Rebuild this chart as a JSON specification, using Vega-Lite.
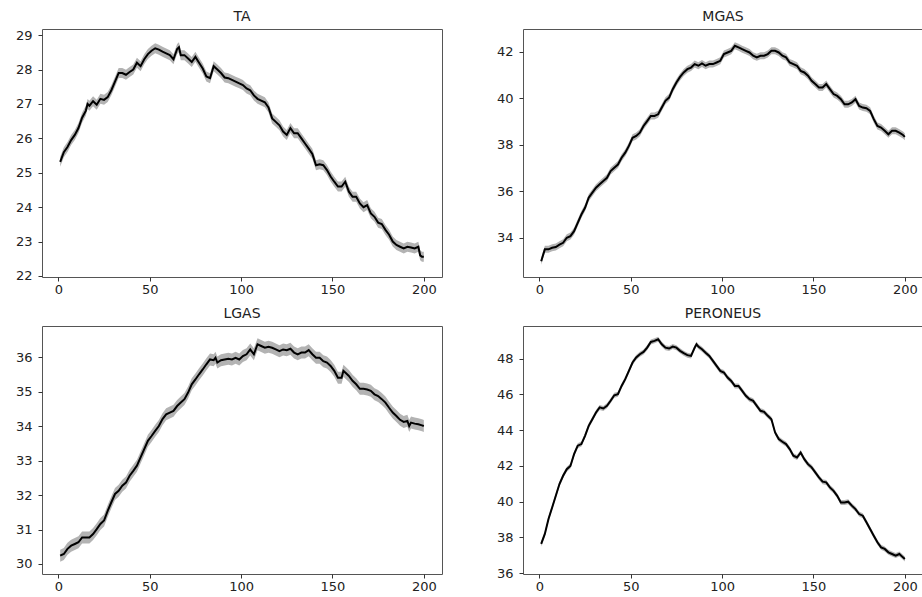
{
  "$schema": "https://vega.github.io/schema/vega-lite/v6.json",
  "padding": {"left": 10, "top": 9, "right": 0, "bottom": 0},
  "background": "white",
  "config": {
    "font": "DejaVu Sans",
    "view": {"stroke": "#555555", "strokeWidth": 1},
    "axis": {"domain": false, "grid": false, "tickColor": "#333333", "tickSize": 4, "labelFont": "DejaVu Sans", "labelFontSize": 13, "labelColor": "#222222", "title": null},
    "axisY": {"minExtent": 31, "maxExtent": 31, "labelPadding": 6},
    "axisX": {"minExtent": 22, "maxExtent": 22, "labelPadding": 2},
    "title": {"font": "DejaVu Sans", "fontSize": 14, "fontWeight": "normal", "color": "#222222", "baseline": "alphabetic", "offset": 5, "anchor": "middle", "frame": "group"},
    "concat": {"spacing": 48}
  },
  "datasets": {
    "ta": [
      {"x":1,"y":25.32},{"x":3,"y":25.6},{"x":5,"y":25.75},{"x":7,"y":25.95},{"x":9,"y":26.1},{"x":11,"y":26.3},{"x":13,"y":26.6},{"x":15,"y":26.8},{"x":16,"y":27.0},{"x":17,"y":26.95},{"x":19,"y":27.08},{"x":21,"y":26.98},{"x":23,"y":27.15},{"x":25,"y":27.12},{"x":27,"y":27.2},{"x":29,"y":27.4},{"x":31,"y":27.65},{"x":33,"y":27.9},{"x":35,"y":27.9},{"x":37,"y":27.85},{"x":39,"y":27.93},{"x":41,"y":28.0},{"x":43,"y":28.2},{"x":45,"y":28.1},{"x":47,"y":28.3},{"x":49,"y":28.45},{"x":51,"y":28.55},{"x":53,"y":28.62},{"x":55,"y":28.58},{"x":57,"y":28.52},{"x":59,"y":28.47},{"x":61,"y":28.42},{"x":63,"y":28.3},{"x":65,"y":28.6},{"x":66,"y":28.65},{"x":67,"y":28.42},{"x":69,"y":28.42},{"x":71,"y":28.32},{"x":73,"y":28.22},{"x":75,"y":28.37},{"x":77,"y":28.2},{"x":79,"y":28.03},{"x":81,"y":27.8},{"x":83,"y":27.75},{"x":85,"y":28.1},{"x":87,"y":28.0},{"x":89,"y":27.9},{"x":91,"y":27.77},{"x":93,"y":27.75},{"x":95,"y":27.7},{"x":97,"y":27.65},{"x":99,"y":27.6},{"x":101,"y":27.55},{"x":103,"y":27.45},{"x":105,"y":27.4},{"x":107,"y":27.25},{"x":109,"y":27.15},{"x":111,"y":27.1},{"x":113,"y":27.05},{"x":115,"y":26.9},{"x":117,"y":26.58},{"x":119,"y":26.48},{"x":121,"y":26.38},{"x":123,"y":26.2},{"x":125,"y":26.1},{"x":127,"y":26.3},{"x":129,"y":26.15},{"x":131,"y":26.15},{"x":133,"y":26.0},{"x":135,"y":25.85},{"x":137,"y":25.7},{"x":139,"y":25.55},{"x":141,"y":25.22},{"x":143,"y":25.25},{"x":145,"y":25.22},{"x":147,"y":25.08},{"x":149,"y":24.89},{"x":151,"y":24.74},{"x":153,"y":24.6},{"x":155,"y":24.6},{"x":157,"y":24.74},{"x":159,"y":24.45},{"x":161,"y":24.3},{"x":163,"y":24.3},{"x":165,"y":24.11},{"x":167,"y":24.0},{"x":169,"y":24.06},{"x":171,"y":23.82},{"x":173,"y":23.72},{"x":175,"y":23.55},{"x":177,"y":23.51},{"x":179,"y":23.34},{"x":181,"y":23.2},{"x":183,"y":23.0},{"x":185,"y":22.9},{"x":187,"y":22.85},{"x":189,"y":22.8},{"x":191,"y":22.85},{"x":193,"y":22.83},{"x":195,"y":22.8},{"x":197,"y":22.85},{"x":198,"y":22.6},{"x":199,"y":22.56},{"x":200,"y":22.56}
    ],
    "mgas": [
      {"x":1,"y":32.99},{"x":3,"y":33.5},{"x":5,"y":33.5},{"x":7,"y":33.57},{"x":9,"y":33.6},{"x":11,"y":33.7},{"x":13,"y":33.78},{"x":15,"y":34.0},{"x":17,"y":34.07},{"x":19,"y":34.28},{"x":21,"y":34.64},{"x":23,"y":35.0},{"x":25,"y":35.29},{"x":27,"y":35.72},{"x":29,"y":35.94},{"x":31,"y":36.15},{"x":33,"y":36.3},{"x":35,"y":36.44},{"x":37,"y":36.58},{"x":39,"y":36.87},{"x":41,"y":37.01},{"x":43,"y":37.15},{"x":45,"y":37.44},{"x":47,"y":37.66},{"x":49,"y":37.95},{"x":51,"y":38.3},{"x":53,"y":38.38},{"x":55,"y":38.52},{"x":57,"y":38.81},{"x":59,"y":39.02},{"x":61,"y":39.24},{"x":63,"y":39.24},{"x":65,"y":39.31},{"x":67,"y":39.6},{"x":69,"y":39.89},{"x":71,"y":40.03},{"x":73,"y":40.39},{"x":75,"y":40.68},{"x":77,"y":40.92},{"x":79,"y":41.11},{"x":81,"y":41.25},{"x":83,"y":41.32},{"x":85,"y":41.47},{"x":87,"y":41.4},{"x":89,"y":41.5},{"x":91,"y":41.4},{"x":93,"y":41.47},{"x":95,"y":41.47},{"x":97,"y":41.54},{"x":99,"y":41.61},{"x":101,"y":41.9},{"x":103,"y":41.97},{"x":105,"y":42.04},{"x":107,"y":42.26},{"x":109,"y":42.19},{"x":111,"y":42.11},{"x":113,"y":42.04},{"x":115,"y":41.97},{"x":117,"y":41.83},{"x":119,"y":41.76},{"x":121,"y":41.83},{"x":123,"y":41.83},{"x":125,"y":41.9},{"x":127,"y":42.04},{"x":129,"y":42.04},{"x":131,"y":41.97},{"x":133,"y":41.83},{"x":135,"y":41.76},{"x":137,"y":41.54},{"x":139,"y":41.47},{"x":141,"y":41.4},{"x":143,"y":41.18},{"x":145,"y":41.11},{"x":147,"y":40.97},{"x":149,"y":40.75},{"x":151,"y":40.61},{"x":153,"y":40.46},{"x":155,"y":40.46},{"x":157,"y":40.61},{"x":159,"y":40.39},{"x":161,"y":40.18},{"x":163,"y":40.1},{"x":165,"y":39.96},{"x":167,"y":39.74},{"x":169,"y":39.74},{"x":171,"y":39.82},{"x":173,"y":39.96},{"x":175,"y":39.67},{"x":177,"y":39.6},{"x":179,"y":39.57},{"x":181,"y":39.46},{"x":183,"y":39.1},{"x":185,"y":38.81},{"x":187,"y":38.74},{"x":189,"y":38.6},{"x":191,"y":38.45},{"x":193,"y":38.6},{"x":195,"y":38.6},{"x":197,"y":38.52},{"x":199,"y":38.42},{"x":200,"y":38.34}
    ],
    "lgas": [
      {"x":1,"y":30.24},{"x":3,"y":30.29},{"x":5,"y":30.44},{"x":7,"y":30.53},{"x":9,"y":30.58},{"x":11,"y":30.63},{"x":13,"y":30.77},{"x":15,"y":30.77},{"x":17,"y":30.77},{"x":19,"y":30.87},{"x":21,"y":31.01},{"x":23,"y":31.16},{"x":25,"y":31.26},{"x":27,"y":31.54},{"x":29,"y":31.79},{"x":31,"y":32.03},{"x":33,"y":32.12},{"x":35,"y":32.27},{"x":37,"y":32.36},{"x":39,"y":32.56},{"x":41,"y":32.7},{"x":43,"y":32.85},{"x":45,"y":33.09},{"x":47,"y":33.33},{"x":49,"y":33.57},{"x":51,"y":33.71},{"x":53,"y":33.86},{"x":55,"y":34.0},{"x":57,"y":34.2},{"x":59,"y":34.34},{"x":61,"y":34.39},{"x":63,"y":34.44},{"x":65,"y":34.58},{"x":67,"y":34.68},{"x":69,"y":34.78},{"x":71,"y":34.97},{"x":73,"y":35.21},{"x":75,"y":35.35},{"x":77,"y":35.5},{"x":79,"y":35.64},{"x":81,"y":35.79},{"x":83,"y":35.93},{"x":85,"y":35.91},{"x":86,"y":35.98},{"x":87,"y":35.84},{"x":89,"y":35.91},{"x":91,"y":35.93},{"x":93,"y":35.95},{"x":95,"y":35.93},{"x":97,"y":35.98},{"x":99,"y":35.93},{"x":101,"y":36.03},{"x":103,"y":36.08},{"x":105,"y":36.22},{"x":107,"y":36.08},{"x":109,"y":36.37},{"x":111,"y":36.32},{"x":113,"y":36.27},{"x":115,"y":36.3},{"x":117,"y":36.27},{"x":119,"y":36.22},{"x":121,"y":36.17},{"x":123,"y":36.22},{"x":125,"y":36.2},{"x":127,"y":36.24},{"x":129,"y":36.13},{"x":131,"y":36.08},{"x":133,"y":36.13},{"x":135,"y":36.13},{"x":137,"y":36.2},{"x":139,"y":36.08},{"x":141,"y":35.98},{"x":143,"y":35.98},{"x":145,"y":35.88},{"x":147,"y":35.84},{"x":149,"y":35.74},{"x":151,"y":35.6},{"x":153,"y":35.4},{"x":155,"y":35.4},{"x":156,"y":35.6},{"x":157,"y":35.55},{"x":159,"y":35.45},{"x":161,"y":35.31},{"x":163,"y":35.21},{"x":165,"y":35.08},{"x":167,"y":35.08},{"x":169,"y":35.06},{"x":171,"y":35.02},{"x":173,"y":34.92},{"x":175,"y":34.87},{"x":177,"y":34.78},{"x":179,"y":34.68},{"x":181,"y":34.53},{"x":183,"y":34.39},{"x":185,"y":34.29},{"x":187,"y":34.18},{"x":189,"y":34.12},{"x":191,"y":34.15},{"x":192,"y":34.0},{"x":193,"y":34.1},{"x":195,"y":34.07},{"x":197,"y":34.05},{"x":199,"y":34.02},{"x":200,"y":34.0}
    ],
    "per": [
      {"x":1,"y":37.64},{"x":3,"y":38.2},{"x":5,"y":39.03},{"x":7,"y":39.68},{"x":9,"y":40.33},{"x":11,"y":40.99},{"x":13,"y":41.45},{"x":15,"y":41.82},{"x":17,"y":42.0},{"x":19,"y":42.66},{"x":21,"y":43.13},{"x":23,"y":43.22},{"x":25,"y":43.68},{"x":27,"y":44.24},{"x":29,"y":44.61},{"x":31,"y":44.99},{"x":33,"y":45.27},{"x":35,"y":45.21},{"x":37,"y":45.36},{"x":39,"y":45.64},{"x":41,"y":45.95},{"x":43,"y":46.01},{"x":45,"y":46.47},{"x":47,"y":46.85},{"x":49,"y":47.31},{"x":51,"y":47.78},{"x":53,"y":48.06},{"x":55,"y":48.24},{"x":57,"y":48.37},{"x":59,"y":48.61},{"x":61,"y":48.93},{"x":63,"y":48.99},{"x":65,"y":49.08},{"x":67,"y":48.8},{"x":69,"y":48.61},{"x":71,"y":48.56},{"x":73,"y":48.67},{"x":75,"y":48.61},{"x":77,"y":48.43},{"x":79,"y":48.3},{"x":81,"y":48.19},{"x":83,"y":48.15},{"x":85,"y":48.61},{"x":86,"y":48.8},{"x":87,"y":48.67},{"x":89,"y":48.52},{"x":91,"y":48.33},{"x":93,"y":48.15},{"x":95,"y":47.87},{"x":97,"y":47.59},{"x":99,"y":47.31},{"x":101,"y":47.22},{"x":103,"y":46.94},{"x":105,"y":46.75},{"x":107,"y":46.47},{"x":109,"y":46.47},{"x":111,"y":46.2},{"x":113,"y":45.92},{"x":115,"y":45.73},{"x":117,"y":45.64},{"x":119,"y":45.36},{"x":121,"y":45.08},{"x":123,"y":45.02},{"x":125,"y":44.8},{"x":127,"y":44.61},{"x":129,"y":43.87},{"x":131,"y":43.5},{"x":133,"y":43.35},{"x":135,"y":43.22},{"x":137,"y":42.94},{"x":139,"y":42.57},{"x":141,"y":42.47},{"x":143,"y":42.75},{"x":145,"y":42.38},{"x":147,"y":42.1},{"x":149,"y":41.92},{"x":151,"y":41.64},{"x":153,"y":41.36},{"x":155,"y":41.12},{"x":157,"y":41.08},{"x":159,"y":40.8},{"x":161,"y":40.61},{"x":163,"y":40.33},{"x":165,"y":39.96},{"x":167,"y":39.96},{"x":169,"y":40.0},{"x":171,"y":39.78},{"x":173,"y":39.59},{"x":175,"y":39.31},{"x":177,"y":39.22},{"x":179,"y":38.85},{"x":181,"y":38.47},{"x":183,"y":38.1},{"x":185,"y":37.73},{"x":187,"y":37.45},{"x":189,"y":37.36},{"x":191,"y":37.17},{"x":193,"y":37.08},{"x":195,"y":36.99},{"x":197,"y":37.08},{"x":199,"y":36.89},{"x":200,"y":36.8}
    ]
  },
  "vconcat": [
    {
      "hconcat": [
        {
          "title": "TA", "width": 400, "height": 248,
          "data": {"name": "ta"},
          "encoding": {
            "x": {"field": "x", "type": "quantitative", "scale": {"domain": [-8.95, 209.95], "nice": false, "zero": false}, "axis": {"values": [0, 50, 100, 150, 200]}},
            "y": {"field": "y", "type": "quantitative", "scale": {"domain": [21.97, 29.18], "nice": false, "zero": false}, "axis": {"values": [22, 23, 24, 25, 26, 27, 28, 29]}}
          },
          "layer": [
            {"mark": {"type": "area", "color": "#b3b3b3", "yOffset": -5, "y2Offset": 5, "clip": true}, "encoding": {"y2": {"field": "y"}}},
            {"mark": {"type": "line", "color": "#000000", "strokeWidth": 2, "clip": true}}
          ]
        },
        {
          "title": "MGAS", "width": 400, "height": 248,
          "data": {"name": "mgas"},
          "encoding": {
            "x": {"field": "x", "type": "quantitative", "scale": {"domain": [-8.95, 209.95], "nice": false, "zero": false}, "axis": {"values": [0, 50, 100, 150, 200]}},
            "y": {"field": "y", "type": "quantitative", "scale": {"domain": [32.31, 42.98], "nice": false, "zero": false}, "axis": {"values": [34, 36, 38, 40, 42]}}
          },
          "layer": [
            {"mark": {"type": "area", "color": "#b3b3b3", "yOffset": -3.5, "y2Offset": 3.5, "clip": true}, "encoding": {"y2": {"field": "y"}}},
            {"mark": {"type": "line", "color": "#000000", "strokeWidth": 2, "clip": true}}
          ]
        }
      ]
    },
    {
      "hconcat": [
        {
          "title": "LGAS", "width": 400, "height": 248,
          "data": {"name": "lgas"},
          "encoding": {
            "x": {"field": "x", "type": "quantitative", "scale": {"domain": [-8.95, 209.95], "nice": false, "zero": false}, "axis": {"values": [0, 50, 100, 150, 200]}},
            "y": {"field": "y", "type": "quantitative", "scale": {"domain": [29.71, 36.9], "nice": false, "zero": false}, "axis": {"values": [30, 31, 32, 33, 34, 35, 36]}}
          },
          "layer": [
            {"mark": {"type": "area", "color": "#b3b3b3", "yOffset": -6, "y2Offset": 6, "clip": true}, "encoding": {"y2": {"field": "y"}}},
            {"mark": {"type": "line", "color": "#000000", "strokeWidth": 2, "clip": true}}
          ]
        },
        {
          "title": "PERONEUS", "width": 400, "height": 248,
          "data": {"name": "per"},
          "encoding": {
            "x": {"field": "x", "type": "quantitative", "scale": {"domain": [-8.95, 209.95], "nice": false, "zero": false}, "axis": {"values": [0, 50, 100, 150, 200]}},
            "y": {"field": "y", "type": "quantitative", "scale": {"domain": [35.96, 49.82], "nice": false, "zero": false}, "axis": {"values": [36, 38, 40, 42, 44, 46, 48]}}
          },
          "layer": [
            {"mark": {"type": "area", "color": "#b3b3b3", "yOffset": -2.5, "y2Offset": 2.5, "clip": true}, "encoding": {"y2": {"field": "y"}}},
            {"mark": {"type": "line", "color": "#000000", "strokeWidth": 2, "clip": true}}
          ]
        }
      ]
    }
  ],
  "spacing": 6
}
